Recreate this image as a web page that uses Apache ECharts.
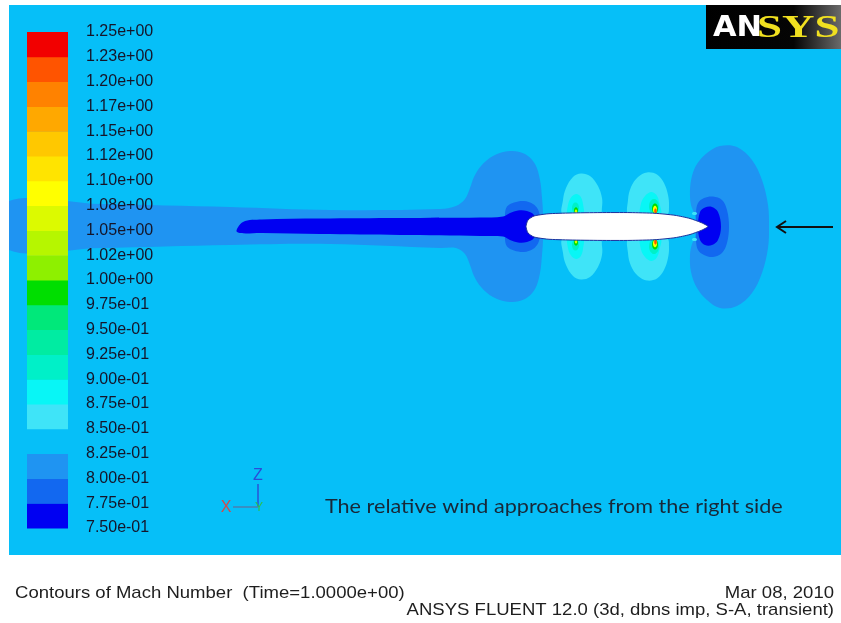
<!DOCTYPE html>
<html>
<head>
<meta charset="utf-8">
<style>
  html, body { margin: 0; padding: 0; background: #ffffff; }
  #chart { width: 841px; height: 623px; }
</style>
<script src="https://cdn.jsdelivr.net/npm/echarts/dist/echarts.min.js"></script>
</head>
<body>
<div id="chart"></div>
<script>
// ---- Contour levels: 20 bands of Mach number between 0.75 and 1.25 ----
const levelEdges = [0.75, 0.775, 0.8, 0.825, 0.85, 0.875, 0.9, 0.925, 0.95, 0.975,
                    1.0, 1.025, 1.05, 1.075, 1.1, 1.125, 1.15, 1.175, 1.2, 1.225, 1.25];
const levelLabels = ['7.50e-01', '7.75e-01', '8.00e-01', '8.25e-01', '8.50e-01', '8.75e-01',
                     '9.00e-01', '9.25e-01', '9.50e-01', '9.75e-01', '1.00e+00', '1.02e+00',
                     '1.05e+00', '1.08e+00', '1.10e+00', '1.12e+00', '1.15e+00', '1.17e+00',
                     '1.20e+00', '1.23e+00', '1.25e+00'];
const bandColors = ['#0000f2', '#1268f0', '#1f94f2', '#06bff8', '#3fe4f8', '#08f6f6',
                    '#00f0c8', '#00eca2', '#00e87a', '#00de00', '#8ef000', '#b6f600',
                    '#dcfa00', '#ffff00', '#ffe400', '#ffc800', '#ffa800', '#ff8200',
                    '#ff5400', '#f20000'];

// ---- Contour outlines, body-centred coordinates (x downstream-negative, y up) ----
// wake plus the region behind the tail (0.800-0.825)
const wakeBand = [[-61, 2.45], [-51.7, 2.25], [-38.7, 1.95], [-28.7, 1.65], [-17.7, 1.75],
  [-16.1, 2.05], [-15.2, 2.75], [-14.7, 3.85], [-14.3, 4.95], [-13.6, 6.05], [-12.4, 7.05],
  [-10.7, 7.55], [-9.2, 7.25], [-8.2, 6.25], [-7.7, 4.65], [-7.5, 2.85], [-7.4, 1.35],
  [-7.4, -1.35], [-7.5, -2.85], [-7.7, -4.65], [-8.2, -6.25], [-9.2, -7.25], [-10.7, -7.55],
  [-12.4, -7.05], [-13.6, -6.05], [-14.3, -4.95], [-14.7, -3.85], [-15.2, -2.75],
  [-16.1, -2.15], [-17.7, -2.15], [-28.7, -1.75], [-38.7, -1.85], [-51.7, -2.15], [-61, -2.25]];
// ring around the tail (0.775-0.800)
const tailRing = [[-11.2, 1.25], [-11.0, 2.0], [-10.3, 2.4], [-9.3, 2.55], [-8.4, 2.25],
  [-7.9, 1.7], [-7.7, 0.85], [-7.7, -0.85], [-7.9, -1.7], [-8.4, -2.25], [-9.3, -2.55],
  [-10.3, -2.4], [-11.0, -2.0], [-11.2, -1.25]];
// slow wake core and tail bulb (0.750-0.775)
const wakeCore = [[-38.0, -0.55], [-37.4, 0.45], [-35.5, 0.7], [-29.7, 0.8], [-21.7, 0.85],
  [-13.7, 0.9], [-11.4, 1.0], [-10.7, 1.35], [-9.9, 1.6], [-9.0, 1.55], [-8.3, 1.15],
  [-8.0, 0], [-8.3, -1.15], [-9.0, -1.55], [-9.9, -1.6], [-10.7, -1.35], [-11.4, -1.0],
  [-13.7, -0.95], [-21.7, -0.85], [-29.7, -0.75], [-35.5, -0.65]];
// stagnation zone ahead of the nose
const noseOuter = [[7.8, 1.15], [7.4, 2.15], [7.3, 3.65], [7.5, 5.05], [8.0, 6.25], [9.0, 7.35],
  [10.3, 8.05], [12.0, 7.95], [13.5, 6.65], [14.5, 4.65], [15.1, 2.15], [15.2, 0],
  [15.1, -2.15], [14.5, -4.65], [13.5, -6.65], [12.0, -7.95], [10.3, -8.15], [9.0, -7.35],
  [8.0, -6.15], [7.4, -4.55], [7.3, -2.85], [7.5, -1.75], [7.8, -1.15], [8.0, 0]];
const noseRing = [[8.1, 2.35], [8.7, 2.85], [9.6, 3.0], [10.5, 2.65], [11.0, 1.65], [11.2, 0],
  [11.0, -1.65], [10.5, -2.65], [9.6, -3.05], [8.7, -2.85], [8.1, -2.35], [7.9, -1.35], [7.9, 1.35]];
const noseCore = [[8.3, 1.45], [8.8, 1.9], [9.5, 1.95], [10.1, 1.45], [10.4, 0], [10.1, -1.35],
  [9.5, -1.85], [8.8, -1.85], [8.3, -1.35], [8.1, 0]];
// accelerated lobes over the hull (upper side; the lower side is the mirror image)
const aftLobeOuter = [[-5.4, 1.2], [-5.4, 2.65], [-5.1, 3.85], [-4.4, 4.95], [-3.6, 5.3],
  [-2.7, 5.05], [-1.9, 4.05], [-1.5, 2.85], [-1.5, 1.95], [-1.7, 1.2]];
const aftLobeInner = [[-4.9, 1.2], [-4.9, 2.15], [-4.6, 2.9], [-4.1, 3.25], [-3.65, 3.0],
  [-3.4, 2.25], [-3.4, 1.2]];
const foreLobeOuter = [[1.2, 1.2], [1.1, 2.65], [1.4, 3.95], [2.1, 4.95], [3.0, 5.4], [4.0, 5.2],
  [4.7, 4.35], [5.1, 3.15], [5.2, 2.05], [5.0, 1.2]];
const foreLobeInner = [[2.4, 1.2], [2.4, 2.3], [2.8, 3.05], [3.4, 3.45], [3.95, 3.15],
  [4.25, 2.3], [4.35, 1.2]];
// supersonic pockets at the shoulders: [x, y, half-width, half-height, Mach]
const shoulderSpots = [
  [-4.15, 1.85, 0.35, 0.55, 0.91], [-4.1, 1.6, 0.2, 0.32, 0.98], [-4.1, 1.5, 0.12, 0.2, 1.06],
  [3.7, 2.0, 0.5, 0.75, 0.91], [3.8, 1.8, 0.3, 0.5, 0.98], [3.8, 1.7, 0.2, 0.38, 1.09],
  [3.85, 1.55, 0.13, 0.25, 1.21], [7.75, 1.3, 0.25, 0.15, 0.86]];
// hull section
const hull = [[-9.1, 0], [-8.9, 0.65], [-8.3, 1.05], [-6.9, 1.27], [-4.7, 1.35], [-1.7, 1.39],
  [1.3, 1.39], [3.8, 1.32], [5.8, 1.12], [7.3, 0.8], [8.4, 0.4], [9.1, 0], [8.4, -0.4],
  [7.3, -0.8], [5.8, -1.12], [3.8, -1.32], [1.3, -1.39], [-1.7, -1.39], [-4.7, -1.35],
  [-6.9, -1.27], [-8.3, -1.05], [-8.9, -0.65]];

// ---- geometry helpers ----
const mirrorY = pts => pts.map(([x, y]) => [x, -y]);
function ellipseOutline(cx, cy, rx, ry) {
  const out = [];
  for (let k = 0; k < 20; k++) {
    const a = (k / 20) * Math.PI * 2;
    out.push([cx + rx * Math.cos(a), cy + ry * Math.sin(a)]);
  }
  return out;
}
function bandOf(mach) {
  return Math.min(levelEdges.length - 2, Math.max(0, Math.floor((mach - 0.75) / 0.025)));
}

// drawing order: outer zones first, hull last
const contourRegions = [
  { mach: 0.81, outline: wakeBand },
  { mach: 0.79, outline: tailRing },
  { mach: 0.76, outline: wakeCore },
  { mach: 0.81, outline: noseOuter },
  { mach: 0.79, outline: noseRing },
  { mach: 0.76, outline: noseCore },
  { mach: 0.86, outline: aftLobeOuter }, { mach: 0.86, outline: mirrorY(aftLobeOuter) },
  { mach: 0.86, outline: foreLobeOuter }, { mach: 0.86, outline: mirrorY(foreLobeOuter) },
  { mach: 0.88, outline: aftLobeInner }, { mach: 0.88, outline: mirrorY(aftLobeInner) },
  { mach: 0.88, outline: foreLobeInner }, { mach: 0.88, outline: mirrorY(foreLobeInner) }
];
shoulderSpots.forEach(([x, y, rx, ry, m]) => {
  contourRegions.push({ mach: m, outline: ellipseOutline(x, y, rx, ry) });
  contourRegions.push({ mach: m, outline: ellipseOutline(x, -y, rx, ry) });
});
contourRegions.push({ mach: null, outline: hull });

const chart = echarts.init(document.getElementById('chart'), null, { renderer: 'canvas' });
const labelFont = 'Liberation Sans, Arial, sans-serif';
const footerFont = '17px Liberation Sans, Arial, sans-serif';

chart.setOption({
  backgroundColor: '#ffffff',
  animation: false,
  grid: [
    { left: 9, right: 0, top: 5, bottom: 68, show: true, backgroundColor: bandColors[3], borderWidth: 0 },
    { left: 27, top: 32, width: 41, height: 496, show: false }
  ],
  xAxis: [
    { gridIndex: 0, type: 'value', min: -60.8, max: 22.4, show: false },
    { gridIndex: 1, type: 'value', min: 0, max: 1, show: false }
  ],
  yAxis: [
    { gridIndex: 0, type: 'value', min: -32.85, max: 22.15, show: false },
    { gridIndex: 1, type: 'value', min: 0.75, max: 1.25, interval: 0.025, position: 'right', z: 10,
      axisLine: { show: false }, axisTick: { show: false }, splitLine: { show: false },
      axisLabel: { margin: 18, padding: [3, 0, 0, 0], fontFamily: labelFont, fontSize: 16, color: '#15152a',
        formatter: v => levelLabels[Math.round((v - 0.75) / 0.025)] } }
  ],
  series: [
    {
      type: 'custom', xAxisIndex: 0, yAxisIndex: 0, clip: true, z: 1, silent: true,
      data: contourRegions.map(r => r.outline[0]),
      renderItem(params, api) {
        const reg = contourRegions[params.dataIndex];
        const isHull = reg.mach === null;
        return {
          type: 'polygon',
          shape: { points: reg.outline.map(p => api.coord(p)), smooth: isHull ? 0.2 : 0.35 },
          style: {
            fill: isHull ? '#ffffff' : bandColors[bandOf(reg.mach)],
            stroke: isHull ? '#1c2f9c' : null,
            lineWidth: isHull ? 1 : 0
          }
        };
      }
    },
    {
      type: 'custom', xAxisIndex: 1, yAxisIndex: 1, z: 5, silent: true,
      encode: { x: 0, y: [1, 2] },
      data: levelEdges.slice(0, -1).map((lo, i) => [0, lo, levelEdges[i + 1]]),
      renderItem(params, api) {
        const top = api.coord([0, api.value(2)]);
        const bottom = api.coord([1, api.value(1)]);
        return {
          type: 'rect',
          shape: { x: top[0], y: top[1], width: bottom[0] - top[0], height: bottom[1] - top[1] + 0.5 },
          style: { fill: bandColors[params.dataIndex] }
        };
      }
    }
  ],
  graphic: [
    // footer captions
    { type: 'text', z: 100, x: 15, y: 593, scaleX: 1.09,
      style: { text: 'Contours of Mach Number  (Time=1.0000e+00)', fill: '#1e1e1e', font: footerFont,
        align: 'left', verticalAlign: 'middle' } },
    { type: 'text', z: 100, x: 834, y: 593, scaleX: 1.09,
      style: { text: 'Mar 08, 2010', fill: '#1e1e1e', font: footerFont, align: 'right', verticalAlign: 'middle' } },
    { type: 'text', z: 100, x: 834, y: 610, scaleX: 1.09,
      style: { text: 'ANSYS FLUENT 12.0 (3d, dbns imp, S-A, transient)', fill: '#1e1e1e', font: footerFont,
        align: 'right', verticalAlign: 'middle' } },
    // annotation
    { type: 'text', z: 100, x: 325, y: 507, scaleX: 1.08,
      style: { text: 'The relative wind approaches from the right side', fill: '#182838',
        font: '20px Lato, sans-serif', align: 'left', verticalAlign: 'middle' } },
    // wind direction arrow
    { type: 'line', z: 100, shape: { x1: 777, y1: 227, x2: 833, y2: 227 },
      style: { stroke: '#111111', lineWidth: 2 } },
    { type: 'polyline', z: 100, shape: { points: [[786, 221], [777, 227], [786, 233]] },
      style: { stroke: '#111111', lineWidth: 2, fill: null } },
    // coordinate triad
    { type: 'line', z: 100, shape: { x1: 258, y1: 484, x2: 258, y2: 507 },
      style: { stroke: '#2a52d8', lineWidth: 1.5 } },
    { type: 'line', z: 100, shape: { x1: 233, y1: 507, x2: 258, y2: 507 },
      style: { stroke: '#4a7fb0', lineWidth: 1.5 } },
    { type: 'text', z: 100, x: 258, y: 476,
      style: { text: 'Z', fill: '#2a4cd8', font: '16px Liberation Sans', align: 'center', verticalAlign: 'middle' } },
    { type: 'text', z: 100, x: 226, y: 508,
      style: { text: 'X', fill: '#d44a4a', font: '16px Liberation Sans', align: 'center', verticalAlign: 'middle' } },
    { type: 'text', z: 100, x: 259, y: 508,
      style: { text: 'Y', fill: '#2cc04a', font: '12px Liberation Sans', align: 'center', verticalAlign: 'middle' } },
    // ANSYS logo
    { type: 'rect', z: 100, shape: { x: 706, y: 5, width: 135, height: 44 },
      style: { fill: new echarts.graphic.LinearGradient(0, 0, 1, 0, [
        { offset: 0, color: '#000000' }, { offset: 0.65, color: '#050505' }, { offset: 1, color: '#6a6a6a' }]) } },
    { type: 'text', z: 101, x: 713, y: 28, scaleX: 1.05,
      style: { text: 'AN', fill: '#ffffff', font: 'bold 29px DejaVu Sans', verticalAlign: 'middle' } },
    { type: 'text', z: 101, x: 757, y: 29, scaleX: 1.45,
      style: { text: 'SYS', fill: '#f0e020', font: 'bold 31px Liberation Serif', verticalAlign: 'middle' } }
  ]
});
</script>
</body>
</html>
